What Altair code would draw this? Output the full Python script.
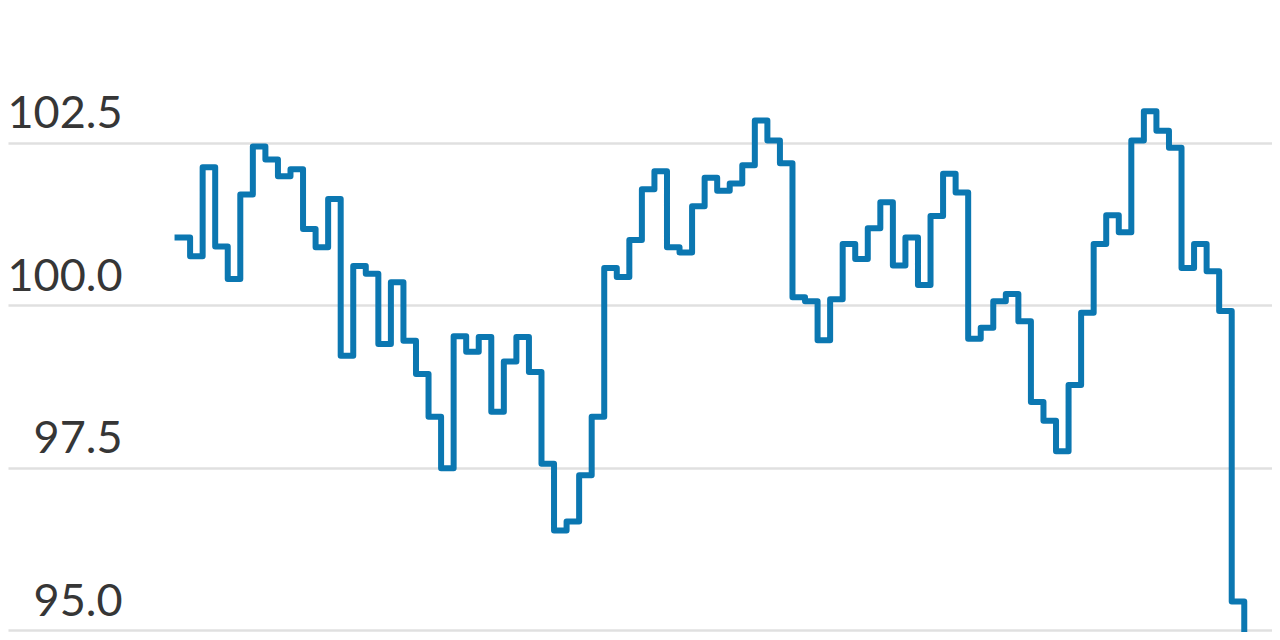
import altair as alt
import pandas as pd

# step values (one per period)
values = [
    101.04, 100.75, 102.12, 100.90, 100.40, 101.70, 102.44, 102.24, 101.98, 102.09,
    101.17, 100.89, 101.63, 99.22, 100.60, 100.48, 99.40, 100.35, 99.45, 98.94,
    98.28, 97.49, 99.52, 99.28, 99.51, 98.36, 99.13, 99.51, 98.97, 97.56,
    96.53, 96.67, 97.38, 98.28, 100.57, 100.43, 101.00, 101.78, 102.06, 100.89,
    100.81, 101.52, 101.96, 101.76, 101.87, 102.15, 102.84, 102.53, 102.18, 100.12,
    100.06, 99.46, 100.09, 100.94, 100.71, 101.18, 101.58, 100.61, 101.04, 100.31,
    101.37, 102.02, 101.73, 99.48, 99.65, 100.06, 100.17, 99.75, 98.51, 98.22,
    97.75, 98.77, 99.88, 100.94, 101.38, 101.12, 102.53, 102.98, 102.68, 102.42,
    100.57, 100.94, 100.52, 99.91, 95.44, 93.90,
]
periods = list(range(len(values)))
tick_values = [95.0, 97.5, 100.0, 102.5]

df = pd.DataFrame({"period": periods, "value": values})

chart = (
    alt.Chart(df)
    .mark_line(
        interpolate="step-after",
        color="#0b77b1",
        strokeWidth=6,
        strokeJoin="round",
        strokeCap="square",
        clip=True,
    )
    .encode(
        x=alt.X(
            "period:Q",
            axis=None,
            scale=alt.Scale(domain=[-13.51, 87.21], nice=False, zero=False),
        ),
        y=alt.Y(
            "value:Q",
            scale=alt.Scale(domain=[94.97, 104.57], nice=False, zero=False),
            axis=alt.Axis(
                values=tick_values,
                format=".1f",
                title=None,
                domain=False,
                ticks=False,
                grid=True,
                gridColor="#e0e0e0",
                gridWidth=2.5,
                labelAlign="right",
                labelBaseline="alphabetic",
                labelPadding=-114,
                labelOffset=-15,
                labelFont="Lato",
                labelFontSize=45,
                labelColor="#363636",
                labelOverlap=False,
                labelFlush=False,
                labelBound=False,
            ),
        ),
    )
    .properties(
        width=1264,
        height=624,
        autosize=alt.AutoSizeParams(type="none"),
        padding=0,
    )
    .configure_view(stroke=None)
)

chart.save("out.html", embed_options={"renderer": "svg", "actions": False})
